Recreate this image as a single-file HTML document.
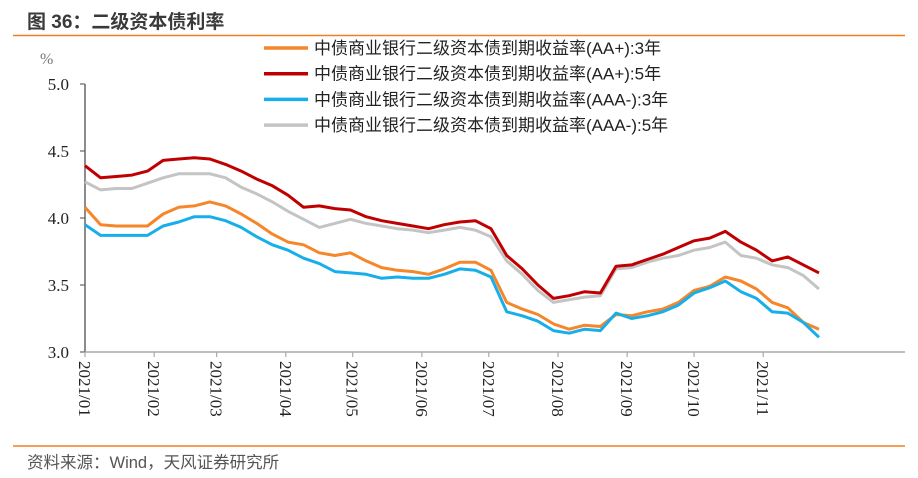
<!DOCTYPE html>
<html><head><meta charset="utf-8"><style>
body{margin:0;background:#fff;width:918px;height:478px;overflow:hidden}
svg{display:block}
</style></head><body>
<svg id="c" width="918" height="478" xmlns="http://www.w3.org/2000/svg">
<text x="27" y="28" font-family="Liberation Sans, Noto Sans CJK SC, sans-serif" font-size="19" font-weight="bold" fill="#3a3a3a">图 36：二级资本债利率</text>
<line x1="13" y1="35.5" x2="905" y2="35.5" stroke="#f07f1f" stroke-width="1.5"/>
<line x1="13" y1="446" x2="905" y2="446" stroke="#f07f1f" stroke-width="1.5"/>
<text x="27" y="468" font-family="Liberation Sans, Noto Sans CJK SC, sans-serif" font-size="16.5" fill="#555">资料来源：Wind，天风证券研究所</text>
<text x="40" y="64" font-family="Liberation Serif, serif" font-size="16" fill="#777">%</text>
<g id="axes"></g>
<g id="series"></g>
<g id="legend"></g>
</svg>
<script>
const monthLabels=["2021/01","2021/02","2021/03","2021/04","2021/05","2021/06","2021/07","2021/08","2021/09","2021/10","2021/11"];
const monthStartDays=[0,31,59,90,120,151,181,212,243,273,304];
const yTicks=[3.0,3.5,4.0,4.5,5.0];
const sampleDays=[0,7,14,21,28,35,42,49,56,63,70,77,84,91,98,105,112,119,126,133,140,147,154,161,168,175,182,189,196,203,210,217,224,231,238,245,252,259,266,273,280,287,294,301,308,315,322,329];
const aaPlus3=[4.08,3.95,3.94,3.94,3.94,4.03,4.08,4.09,4.12,4.09,4.03,3.96,3.88,3.82,3.80,3.74,3.72,3.74,3.68,3.63,3.61,3.60,3.58,3.62,3.67,3.67,3.61,3.37,3.32,3.28,3.21,3.17,3.20,3.19,3.28,3.27,3.30,3.32,3.37,3.46,3.49,3.56,3.53,3.47,3.37,3.33,3.22,3.17];
const aaPlus5=[4.39,4.30,4.31,4.32,4.35,4.43,4.44,4.45,4.44,4.40,4.35,4.29,4.24,4.17,4.08,4.09,4.07,4.06,4.01,3.98,3.96,3.94,3.92,3.95,3.97,3.98,3.92,3.72,3.62,3.50,3.40,3.42,3.45,3.44,3.64,3.65,3.69,3.73,3.78,3.83,3.85,3.90,3.82,3.76,3.68,3.71,3.65,3.59];
const aaaMinus3=[3.95,3.87,3.87,3.87,3.87,3.94,3.97,4.01,4.01,3.98,3.93,3.86,3.80,3.76,3.70,3.66,3.60,3.59,3.58,3.55,3.56,3.55,3.55,3.58,3.62,3.61,3.56,3.30,3.27,3.23,3.16,3.14,3.17,3.16,3.29,3.25,3.27,3.30,3.35,3.44,3.48,3.53,3.45,3.40,3.30,3.29,3.22,3.11];
const aaaMinus5=[4.27,4.21,4.22,4.22,4.26,4.30,4.33,4.33,4.33,4.30,4.23,4.18,4.12,4.05,3.99,3.93,3.96,3.99,3.96,3.94,3.92,3.91,3.89,3.91,3.93,3.91,3.86,3.68,3.58,3.46,3.37,3.39,3.41,3.42,3.62,3.63,3.67,3.70,3.72,3.76,3.78,3.82,3.72,3.70,3.65,3.63,3.57,3.47];
const seriesNames=["中债商业银行二级资本债到期收益率(AA+):3年","中债商业银行二级资本债到期收益率(AA+):5年","中债商业银行二级资本债到期收益率(AAA-):3年","中债商业银行二级资本债到期收益率(AAA-):5年"];

const NS="http://www.w3.org/2000/svg";
const X0=85,X1=819,Y0=352,Y1=84,DMAX=329,VMIN=3,VMAX=5;
const xs=d=>X0+(X1-X0)*d/DMAX;
const ys=v=>Y0-(Y0-Y1)*(v-VMIN)/(VMAX-VMIN);
function mk(tag,attrs,parent){const e=document.createElementNS(NS,tag);for(const k in attrs)e.setAttribute(k,attrs[k]);parent.appendChild(e);return e;}
const axes=document.getElementById('axes');
let e=mk('line',{x1:X0,y1:Y1,x2:X0,y2:Y0,stroke:'#666','stroke-width':1.5},axes);


e=mk('line',{x1:X0,y1:Y0,x2:905,y2:Y0,stroke:'#aaa','stroke-width':1.5},axes);


yTicks.forEach(v=>{
  const y=ys(v);
  let t=mk('line',{x1:X0-5,y1:y,x2:X0,y2:y,stroke:'#666','stroke-width':1.2},axes);
  
  
  let l=mk('text',{x:X0-16,y:y+6,'text-anchor':'end','font-family':'Liberation Serif, serif','font-size':17,fill:'#222'},axes);
  l.textContent=v.toFixed(1);
  
  
});
monthStartDays.forEach((d,i)=>{
  const x=xs(d);
  let t=mk('line',{x1:x,y1:Y0,x2:x,y2:Y0+5,stroke:'#aaa','stroke-width':1.2},axes);
  
  
  let l=mk('text',{x:0,y:0,transform:`translate(${x-6},${Y0+9}) rotate(90)`,'font-family':'Liberation Serif, serif','font-size':17,fill:'#222'},axes);
  l.textContent=monthLabels[i];
  
  
});
const colors=['#f5862a','#c00000','#18aeea','#c4c4c4'];
const data=[aaPlus3,aaPlus5,aaaMinus3,aaaMinus5];
const order=[3,1,0,2];
const sg=document.getElementById('series');
order.forEach(k=>{
  const pts=data[k].map((v,i)=>xs(sampleDays[i]).toFixed(1)+','+ys(v).toFixed(1)).join(' ');
  const p=mk('polyline',{points:pts,fill:'none',stroke:colors[k],'stroke-width':3,'stroke-linejoin':'round'},sg);
  
  
});
const lg=document.getElementById('legend');
seriesNames.forEach((n,i)=>{
  const y=48+i*25.7;
  const g=mk('g',{},lg);
  
  
  mk('line',{x1:264,y1:y,x2:308,y2:y,stroke:colors[i],'stroke-width':3.5},g);
  const t=mk('text',{x:314,y:y+6,'font-family':'Liberation Sans, Noto Sans CJK SC, sans-serif','font-size':17,fill:'#222'},g);
  t.textContent=n;
});
</script>
</body></html>
